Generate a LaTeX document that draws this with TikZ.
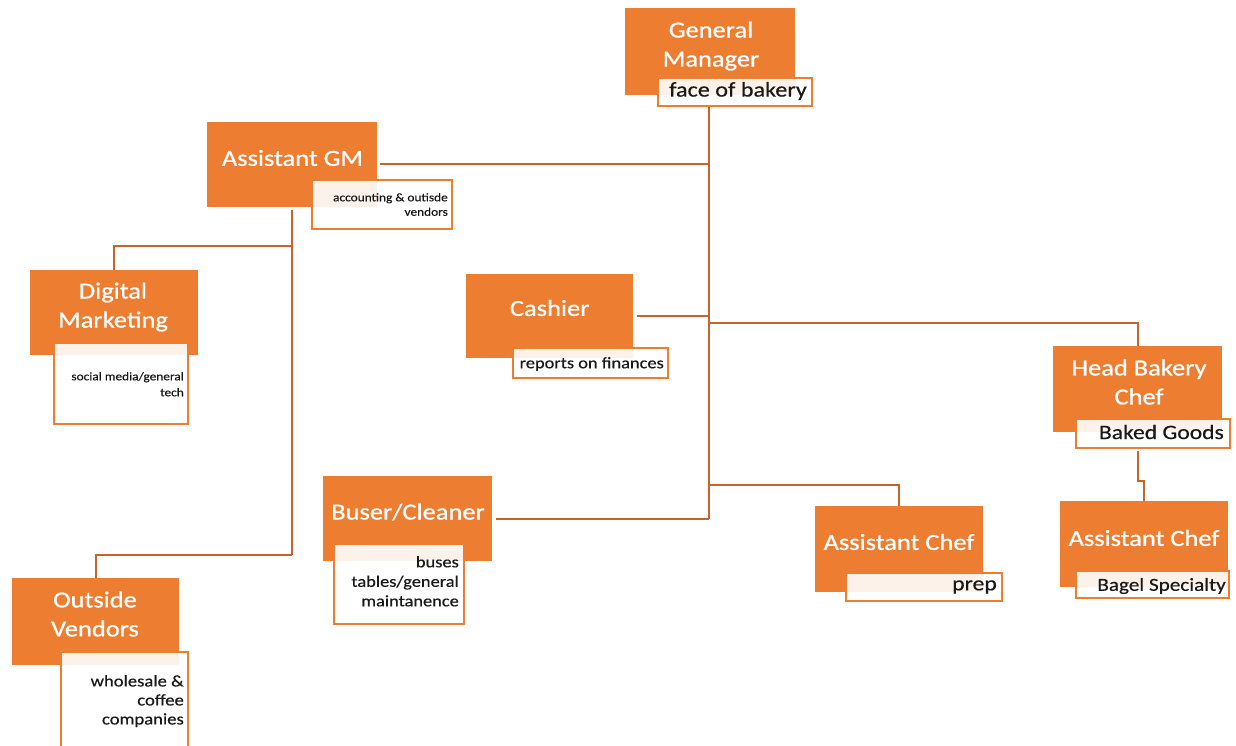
\documentclass[tikz,border=0pt]{standalone}
\usepackage{fontspec}
\setmainfont{Carlito}[FakeStretch=1.15,FakeBold=0.4]
\newfontfamily\ttlfont{Carlito}[FakeStretch=1.15,FakeBold=0.8]
\definecolor{org}{RGB}{237,125,49}
\definecolor{lnk}{RGB}{197,100,45}
\begin{document}
\begin{tikzpicture}[x=1pt,y=-1pt,
  obox/.style={fill=org, draw=none, inner sep=0pt},
  sbox/.style={draw=org, line width=2pt, fill=white, fill opacity=0.9, inner sep=0pt},
  ttl/.style={text=white, font=\ttlfont\fontsize{23}{29}\selectfont, align=center, inner sep=0pt},
  stx/.style={text=black!90, align=right, inner sep=0pt},
  conn/.style={draw=lnk, line width=2pt}]
\useasboundingbox[fill=white] (0,0) rectangle (1236,746);

% General Manager
\node[obox, minimum width=170pt, minimum height=87pt] (gm) at (710,51.5) {};
\node[ttl] (gmt) at (711,46) {General\\Manager};
\node[sbox, minimum width=154pt, minimum height=28pt] (gmsb) at (735,92) {};
\node[stx, anchor=east, font=\fontsize{21}{25}\selectfont] (gms) at (807,91) {face of bakery};

% Assistant GM
\node[obox, minimum width=170pt, minimum height=85pt] (agm) at (292,164.5) {};
\node[ttl] (agmt) at (292.5,158) {Assistant GM};
\node[sbox, minimum width=140pt, minimum height=49pt] (agmsb) at (382,204.5) {};
\node[stx, anchor=north east, font=\fontsize{11.6}{14.5}\selectfont] (agms) at (448,193) {accounting \& outisde\\vendors};

% Digital Marketing
\node[obox, minimum width=168pt, minimum height=85pt] (dm) at (114,312.5) {};
\node[ttl] (dmt) at (113,307) {Digital\\Marketing};
\node[sbox, minimum width=134pt, minimum height=81pt] (dmsb) at (121,383.5) {};
\node[stx, anchor=north east, font=\fontsize{11.6}{16}\selectfont] (dms) at (184,372) {social media/general\\tech};

% Outside Vendors
\node[obox, minimum width=167pt, minimum height=87pt] (ov) at (95.5,621.5) {};
\node[ttl] (ovt) at (95,614) {Outside\\Vendors};
\node[sbox, minimum width=127pt, minimum height=104pt] (ovsb) at (124.5,704) {};
\node[stx, anchor=north east, font=\fontsize{16.2}{19}\selectfont] (ovs) at (184,675) {wholesale \&\\coffee\\companies};

% Cashier
\node[obox, minimum width=167pt, minimum height=84pt] (cash) at (549.5,316) {};
\node[ttl] (casht) at (549.7,308) {Cashier};
\node[sbox, minimum width=155pt, minimum height=30pt] (cashsb) at (590.5,363) {};
\node[stx, anchor=east, font=\fontsize{16}{19}\selectfont] (cashs) at (664,364) {reports on finances};

% Buser/Cleaner
\node[obox, minimum width=169pt, minimum height=85pt] (bus) at (407.5,518.5) {};
\node[ttl] (bust) at (408,512) {Buser/Cleaner};
\node[sbox, minimum width=130pt, minimum height=80pt] (bussb) at (399,584) {};
\node[stx, anchor=north east, font=\fontsize{16}{19.5}\selectfont] (buss) at (459,556) {buses\\tables/general\\maintanence};

% Assistant Chef (prep)
\node[obox, minimum width=168pt, minimum height=86pt] (acA) at (899,549) {};
\node[ttl] (acAt) at (899,542) {Assistant Chef};
\node[sbox, minimum width=156pt, minimum height=28pt] (acAsb) at (924,587) {};
\node[stx, anchor=east, font=\fontsize{20.6}{24}\selectfont] (acAs) at (997,587) {prep};

% Head Bakery Chef
\node[obox, minimum width=169pt, minimum height=86pt] (hbc) at (1137.5,389) {};
\node[ttl] (hbct) at (1139,382) {Head Bakery\\Chef};
\node[sbox, minimum width=154pt, minimum height=29pt] (hbcsb) at (1153,433.5) {};
\node[stx, anchor=east, font=\fontsize{20.5}{24}\selectfont] (hbcs) at (1224,432) {Baked Goods};

% Assistant Chef (bagel)
\node[obox, minimum width=168pt, minimum height=86pt] (acB) at (1144,544) {};
\node[ttl] (acBt) at (1144,538) {Assistant Chef};
\node[sbox, minimum width=153pt, minimum height=27pt] (acBsb) at (1152.5,584.5) {};
\node[stx, anchor=east, font=\fontsize{18.4}{22}\selectfont] (acBs) at (1226,586) {Bagel Specialty};

% connectors
\coordinate (T) at (709,0);
\coordinate (hy) at (0,323);
\coordinate (ay) at (0,485);
\coordinate (dy) at (0,246);
\coordinate (oy) at (0,555);
\draw[conn] (gmsb.south -| T) -- (bus.east -| T);
\draw[conn] ([xshift=3pt]agm.east) -- (agm.east -| T);
\draw[conn] ([xshift=4pt]cash.east) -- (cash.east -| T);
\draw[conn] (T |- hy) -| (hbc.north);
\draw[conn] (T |- ay) -| (acA.north);
\draw[conn] ([xshift=4pt]bus.east) -- (bus.east -| T);
\draw[conn] ([yshift=-3pt]agm.south) -- (agm.south |- oy);
\draw[conn] (agm.south |- dy) -| (dm.north);
\draw[conn] (agm.south |- oy) -| (ov.north);
\draw[conn] ([yshift=-2pt]hbcsb.south -| hbc.north) -- ++(0,30) -| (acB.north);
\end{tikzpicture}
\end{document}
